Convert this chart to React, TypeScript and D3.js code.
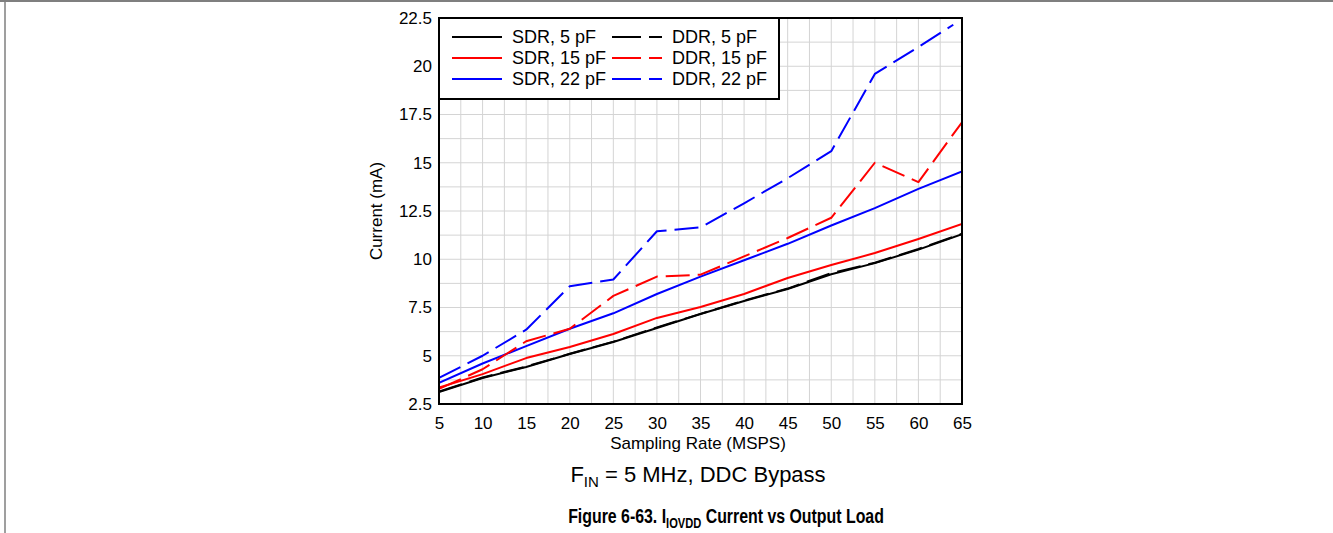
import { useEffect, useRef } from "react";
import * as d3 from "d3";

// Sampling rate (MSPS)
const RATES = [5, 10, 15, 20, 25, 30, 35, 40, 45, 50, 55, 60, 65];
const RATES_DDR22 = [5, 10, 15, 20, 25, 30, 35, 40, 45, 50, 55, 60, 64];

// Current (mA)
const SDR_5 = [3.12, 3.85, 4.42, 5.09, 5.71, 6.44, 7.16, 7.84, 8.46, 9.22, 9.8, 10.5, 11.3];
const DDR_5 = [3.15, 3.87, 4.44, 5.1, 5.73, 6.47, 7.17, 7.86, 8.48, 9.28, 9.82, 10.53, 11.32];
const SDR_15 = [3.35, 4.05, 4.88, 5.45, 6.13, 6.96, 7.53, 8.2, 9.03, 9.7, 10.32, 11.05, 11.83];
const DDR_15 = [3.28, 4.3, 5.75, 6.4, 8.1, 9.1, 9.2, 10.15, 11.1, 12.15, 15.0, 14.0, 17.1];
const SDR_22 = [3.6, 4.6, 5.5, 6.4, 7.2, 8.2, 9.1, 9.95, 10.8, 11.75, 12.65, 13.65, 14.55];
const DDR_22 = [3.85, 5.0, 6.35, 8.6, 8.95, 11.45, 11.65, 12.9, 14.2, 15.6, 19.6, 21.0, 22.15];

const X_TICKS = [5, 10, 15, 20, 25, 30, 35, 40, 45, 50, 55, 60, 65];
const Y_TICKS = [2.5, 5, 7.5, 10, 12.5, 15, 17.5, 20, 22.5];

const SERIES = [
  { name: "SDR, 5 pF", xs: RATES, ys: SDR_5, color: "#000000", dashed: false },
  { name: "SDR, 15 pF", xs: RATES, ys: SDR_15, color: "#ff0000", dashed: false },
  { name: "SDR, 22 pF", xs: RATES, ys: SDR_22, color: "#0000ff", dashed: false },
  { name: "DDR, 5 pF", xs: RATES, ys: DDR_5, color: "#000000", dashed: true },
  { name: "DDR, 15 pF", xs: RATES, ys: DDR_15, color: "#ff0000", dashed: true },
  { name: "DDR, 22 pF", xs: RATES_DDR22, ys: DDR_22, color: "#0000ff", dashed: true },
];

const FONT = "Arial, 'Liberation Sans', sans-serif";

export default function App() {
  const ref = useRef<SVGSVGElement>(null);

  useEffect(() => {
    if (!ref.current) return;
    const svg = d3.select(ref.current);
    svg.selectAll("*").remove();

    const W = 1333, H = 533;
    const m = { left: 439, right: 962, top: 18, bottom: 404 };

    const x = d3.scaleLinear().domain([5, 65]).range([m.left, m.right]);
    const y = d3.scaleLinear().domain([2.5, 22.5]).range([m.bottom, m.top]);

    svg.append("rect").attr("width", W).attr("height", H).attr("fill", "#fff");

    // page frame
    svg.append("line").attr("x1", 0).attr("x2", W).attr("y1", 1).attr("y2", 1)
      .attr("stroke", "#7f7f7f").attr("stroke-width", 2);
    svg.append("line").attr("x1", 5).attr("x2", 5).attr("y1", 0).attr("y2", H)
      .attr("stroke", "#7f7f7f").attr("stroke-width", 1.5);

    // grid (minor every half step)
    const gx = d3.range(5, 65.01, 2.5);
    const gy = d3.range(2.5, 22.51, 1.25);
    const grid = svg.append("g").attr("stroke", "#d4d4d4").attr("stroke-width", 1);
    grid.selectAll("line.gx").data(gx).enter().append("line")
      .attr("x1", d => x(d)).attr("x2", d => x(d))
      .attr("y1", m.top).attr("y2", m.bottom);
    grid.selectAll("line.gy").data(gy).enter().append("line")
      .attr("x1", m.left).attr("x2", m.right)
      .attr("y1", d => y(d)).attr("y2", d => y(d));

    // lines
    const clipId = "plot-clip";
    svg.append("defs").append("clipPath").attr("id", clipId)
      .append("rect").attr("x", m.left).attr("y", m.top)
      .attr("width", m.right - m.left).attr("height", m.bottom - m.top);

    const lines = svg.append("g").attr("clip-path", `url(#${clipId})`);
    SERIES.forEach(s => {
      const pts = s.xs.map((v, i) => [v, s.ys[i]] as [number, number]);
      lines.append("path")
        .datum(pts)
        .attr("fill", "none")
        .attr("stroke", s.color)
        .attr("stroke-width", 2)
        .attr("stroke-linejoin", "round")
        .attr("stroke-dasharray", s.dashed ? "24,8" : null)
        .attr("d", d3.line().x(d => x(d[0])).y(d => y(d[1])));
    });

    // axes
    const xAxis = svg.append("g")
      .attr("transform", `translate(0,${m.bottom})`)
      .call(d3.axisBottom(x).tickValues(X_TICKS).tickSize(0).tickPadding(13).tickFormat(d3.format("d")));
    xAxis.select(".domain").remove();
    xAxis.selectAll(".tick text").attr("font-size", "17px").attr("font-family", FONT).attr("fill", "#000");

    const yAxis = svg.append("g")
      .attr("transform", `translate(${m.left},0)`)
      .call(d3.axisLeft(y).tickValues(Y_TICKS).tickSize(0).tickPadding(7).tickFormat(d => String(d)));
    yAxis.select(".domain").remove();
    yAxis.selectAll(".tick text").attr("font-size", "17px").attr("font-family", FONT).attr("fill", "#000");

    // plot border
    svg.append("rect")
      .attr("x", m.left).attr("y", m.top)
      .attr("width", m.right - m.left).attr("height", m.bottom - m.top)
      .attr("fill", "none").attr("stroke", "#000").attr("stroke-width", 2);

    // axis titles
    svg.append("text")
      .attr("x", 698).attr("y", 449)
      .attr("text-anchor", "middle").attr("font-size", "17px").attr("font-family", FONT)
      .text("Sampling Rate (MSPS)");
    svg.append("text")
      .attr("transform", `translate(382,${(m.top + m.bottom) / 2}) rotate(-90)`)
      .attr("text-anchor", "middle").attr("font-size", "17px").attr("font-family", FONT)
      .text("Current (mA)");

    // legend
    const lg = svg.append("g");
    lg.append("rect")
      .attr("x", m.left).attr("y", m.top).attr("width", 340).attr("height", 81)
      .attr("fill", "#fff").attr("stroke", "#000").attr("stroke-width", 2);
    SERIES.forEach((s, i) => {
      const col = s.dashed ? 1 : 0;
      const row = i % 3;
      const lx = 452 + col * 160;
      const ly = 37 + row * 21;
      lg.append("line")
        .attr("x1", lx).attr("x2", lx + 50).attr("y1", ly).attr("y2", ly)
        .attr("stroke", s.color).attr("stroke-width", 2)
        .attr("stroke-dasharray", s.dashed ? "29,8" : null);
      lg.append("text")
        .attr("x", lx + 60).attr("y", ly).attr("dy", "0.35em")
        .attr("font-size", "18px").attr("font-family", FONT)
        .text(s.name);
    });

    // subtitle
    const sub = svg.append("text")
      .attr("x", 698).attr("y", 482)
      .attr("text-anchor", "middle").attr("font-size", "22px").attr("font-family", FONT);
    sub.append("tspan").text("F");
    sub.append("tspan").attr("font-size", "15px").attr("dy", 5).text("IN");
    sub.append("tspan").attr("dy", -5).text(" = 5 MHz, DDC Bypass");

    // caption, squeezed horizontally like a narrow bold face
    const cap = svg.append("text")
      .attr("x", 0).attr("y", 0)
      .attr("text-anchor", "middle").attr("font-size", "20px").attr("font-weight", "700")
      .attr("font-family", FONT);
    cap.append("tspan").text("Figure 6-63. I");
    cap.append("tspan").attr("font-size", "14px").attr("dy", 5).text("IOVDD");
    cap.append("tspan").attr("dy", -5).text(" Current vs Output Load");
    const natural = (cap.node() as SVGTextElement).getComputedTextLength() || 396;
    cap.attr("transform", `translate(726,523) scale(${316 / natural},1)`);
  }, []);

  return (
    <svg
      ref={ref}
      width={1333}
      height={533}
      style={{ position: "absolute", left: 0, top: 0, display: "block" }}
    />
  );
}
